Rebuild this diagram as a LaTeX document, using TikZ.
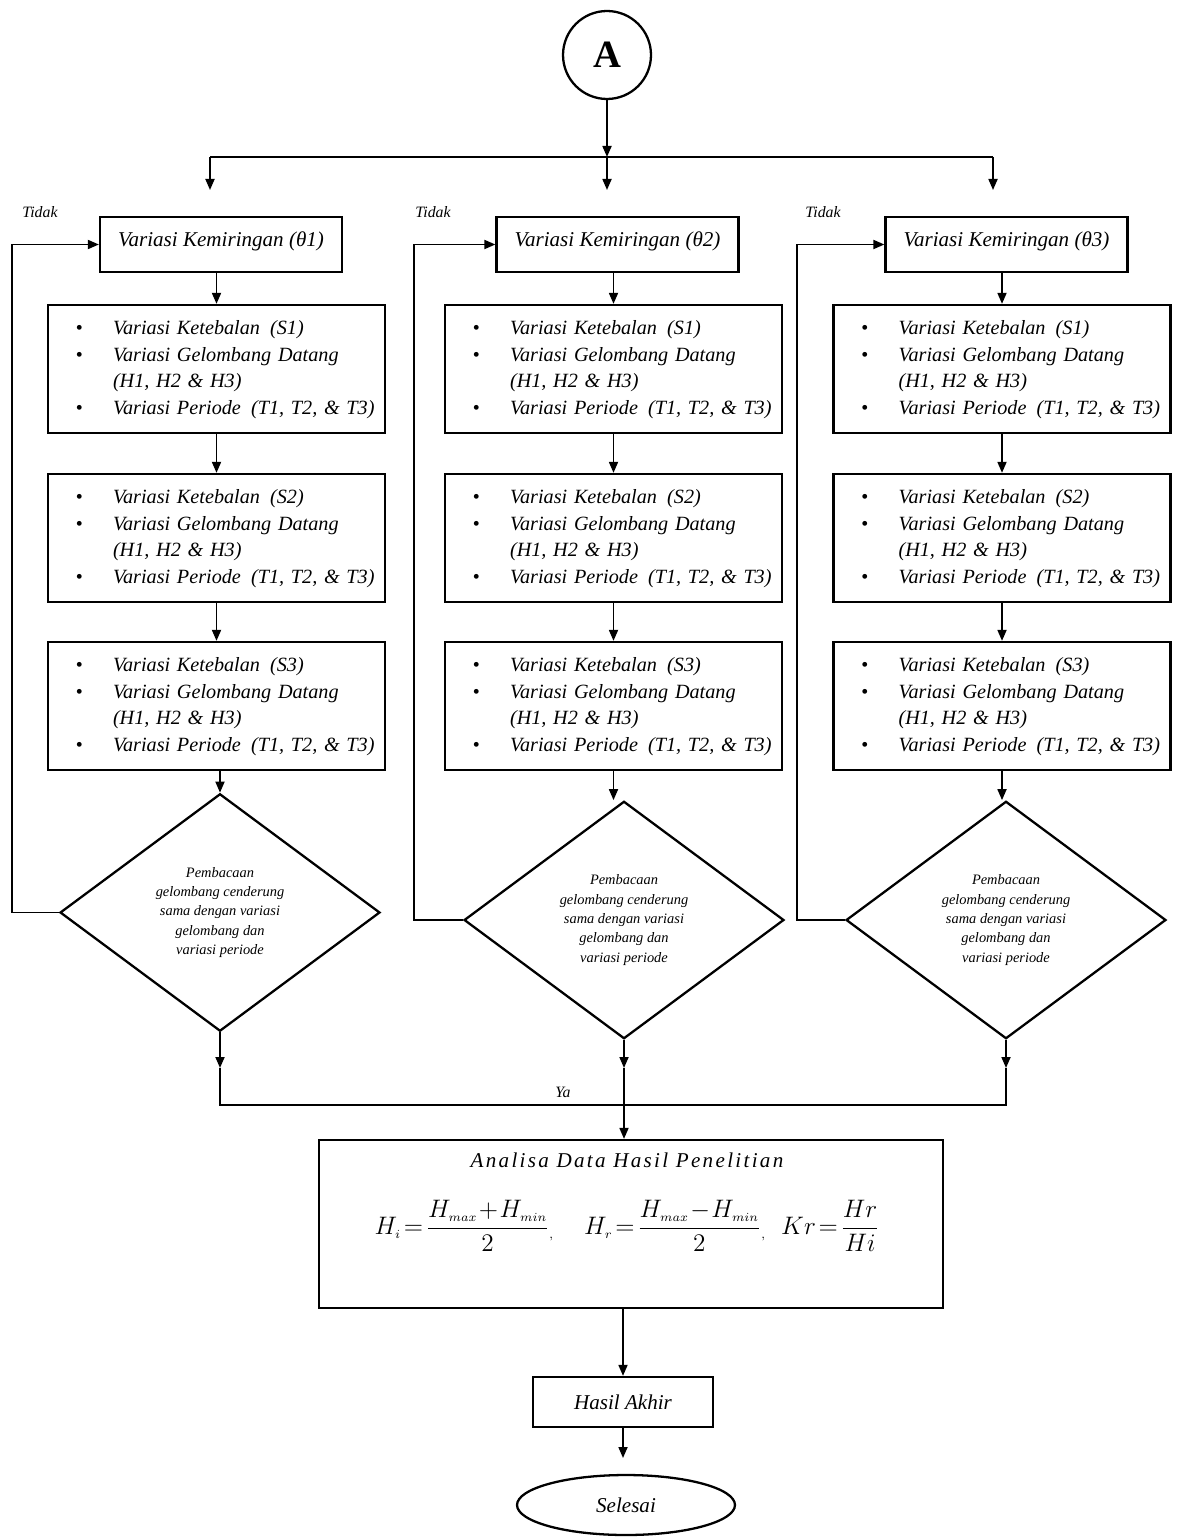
\documentclass[tikz,border=0pt,12pt]{standalone}
\usepackage{amsmath,amssymb}
\usepackage{fontspec}
\setmainfont{Liberation Serif}
\newfontfamily\spacedfont[LetterSpace=11]{Liberation Serif}
\usepackage{tikz}
\usetikzlibrary{shapes.geometric,positioning,calc,arrows.meta}

\newcommand{\varlist}[1]{%
  \hspace*{0.55cm}\renewcommand{\arraystretch}{1.12}%
  \begin{tabular}{@{}p{0.75cm}@{}l@{}}
    \textbullet & Variasi Ketebalan\ \,(#1)\\
    \textbullet & Variasi Gelombang Datang\\
                & (H1, H2 \& H3)\\
    \textbullet & Variasi Periode\ \,(T1, T2, \& T3)
  \end{tabular}}

\begin{document}
\begin{tikzpicture}[x=0.02cm, y=-0.02cm,
    box/.style={draw, line width=1.3pt, rectangle},
    kembox/.style={box, minimum width=4.84cm, minimum height=1.1cm, text height=8.8pt, text depth=6pt, font=\itshape},
    listbox/.style={box, minimum width=6.74cm, minimum height=2.56cm, text width=6.74cm, inner xsep=0pt, font=\fontsize{11.5}{13.5}\selectfont\itshape},
    decision/.style={diamond, draw, line width=1.3pt, minimum width=6.4cm, minimum height=4.75cm, inner sep=0pt, align=center, font=\fontsize{8.2}{11}\selectfont\itshape},
    lbl/.style={font=\fontsize{9}{10}\selectfont\itshape, inner sep=1pt},
    arr/.style={line width=1pt, -{Triangle[length=2.2mm, width=1.8mm]}},
    link/.style={line width=1pt}]
  \useasboundingbox (0,0) rectangle (1178,1537);

  % Connector A and split
  \node[draw, circle, line width=1.3pt, minimum size=1.76cm, font=\fontsize{22}{24}\selectfont\bfseries] (A) at (607,55) {A};
  \coordinate (split) at (607,157);
  \coordinate (in1) at (210,190);
  \coordinate (in2) at (607,190);
  \coordinate (in3) at (993,190);
  \draw[arr] (A) -- (split);
  \draw[link] (split -| in1) -- (split -| in3);
  \draw[arr] (split) -- (in2);
  \draw[arr] (split -| in1) -- (in1);
  \draw[arr] (split -| in3) -- (in3);

  % Column 1
  \node[kembox] (kem1) at (221,244.5) {Variasi Kemiringan (θ1)};
  \node[listbox] (s11) at (216.5,369) {\varlist{S1}};
  \node[listbox] (s12) at (216.5,538) {\varlist{S2}};
  \node[listbox] (s13) at (216.5,706) {\varlist{S3}};
  \node[decision] (dia1) at (220,912.5) {Pembacaan\\gelombang cenderung\\sama dengan variasi\\gelombang dan\\variasi periode};
  \draw[arr] (s11.north |- kem1.south) -- (s11.north);
  \draw[arr] (s11.south) -- (s12.north);
  \draw[arr] (s12.south) -- (s13.north);
  \draw[arr] (dia1.north |- s13.south) -- (dia1.north);
  \draw[arr] (dia1.west) -- ++(-47,0) |- (kem1.west);
  \node[lbl] (tdk1) at (40,212) {Tidak};

  % Column 2
  \node[kembox] (kem2) at (617.5,244.5) {Variasi Kemiringan (θ2)};
  \node[listbox] (s21) at (613.5,369) {\varlist{S1}};
  \node[listbox] (s22) at (613.5,538) {\varlist{S2}};
  \node[listbox] (s23) at (613.5,706) {\varlist{S3}};
  \node[decision] (dia2) at (624,920) {Pembacaan\\gelombang cenderung\\sama dengan variasi\\gelombang dan\\variasi periode};
  \draw[arr] (s21.north |- kem2.south) -- (s21.north);
  \draw[arr] (s21.south) -- (s22.north);
  \draw[arr] (s22.south) -- (s23.north);
  \draw[arr] (s23.south) -- (s23.south |- dia2.north);
  \draw[arr] (dia2.west) -- ++(-49,0) |- (kem2.west);
  \node[lbl] (tdk2) at (433,212) {Tidak};

  % Column 3
  \node[kembox] (kem3) at (1006.5,244.5) {Variasi Kemiringan (θ3)};
  \node[listbox] (s31) at (1002,369) {\varlist{S1}};
  \node[listbox] (s32) at (1002,538) {\varlist{S2}};
  \node[listbox] (s33) at (1002,706) {\varlist{S3}};
  \node[decision] (dia3) at (1006,920) {Pembacaan\\gelombang cenderung\\sama dengan variasi\\gelombang dan\\variasi periode};
  \draw[arr] (s31.north |- kem3.south) -- (s31.north);
  \draw[arr] (s31.south) -- (s32.north);
  \draw[arr] (s32.south) -- (s33.north);
  \draw[arr] (s33.south) -- (s33.south |- dia3.north);
  \draw[arr] (dia3.west) -- ++(-48,0) |- (kem3.west);
  \node[lbl] (tdk3) at (823,212) {Tidak};

  % Ya branch
  \coordinate (m1) at (220,1068);
  \coordinate (m2) at (624,1068);
  \coordinate (m3) at (1006,1068);
  \coordinate (ya1) at (220,1105);
  \coordinate (ya2) at (624,1105);
  \coordinate (ya3) at (1006,1105);
  \draw[arr] (dia1.south) -- (m1);
  \draw[arr] (dia2.south) -- (m2);
  \draw[arr] (dia3.south) -- (m3);
  \draw[link] (m1) -- (ya1) -- (ya3) -- (m3);
  \draw[link] (m2) -- (ya2);
  \node[lbl] (ya) at (563,1092) {Ya};

  % Analisa
  \node[box, minimum width=12.48cm, minimum height=3.36cm] (ana) at (631,1224) {};
  \node[font=\spacedfont\itshape] (anatitle) at (627,1160) {Analisa Data Hasil Penelitian};
  \node[font=\fontsize{14}{18}\selectfont] (anaform) at (627,1226)
    {$H_{\scriptscriptstyle i}\!=\!\dfrac{H_{\scriptscriptstyle max}\!+\!H_{\scriptscriptstyle min}}{2}{}_{\scriptscriptstyle ,}\hspace{0.6cm}
      H_{\scriptscriptstyle r}\!=\!\dfrac{H_{\scriptscriptstyle max}\!-\!H_{\scriptscriptstyle min}}{2}{}_{\scriptscriptstyle ,}\hspace{0.3cm}
      Kr\!=\!\dfrac{Hr}{Hi}$};
  \draw[arr] (ya2) -- (ya2 |- ana.north);

  % Hasil and Selesai
  \node[box, minimum width=3.6cm, minimum height=1cm, font=\itshape] (hasil) at (623,1402) {Hasil Akhir};
  \coordinate (endarr) at (623,1458);
  \node[ellipse, draw, line width=1.3pt, minimum width=4.36cm, minimum height=1.2cm, font=\itshape] (selesai) at (626,1505) {Selesai};
  \draw[arr] (hasil.north |- ana.south) -- (hasil.north);
  \draw[arr] (hasil.south) -- (endarr);
\end{tikzpicture}
\end{document}
